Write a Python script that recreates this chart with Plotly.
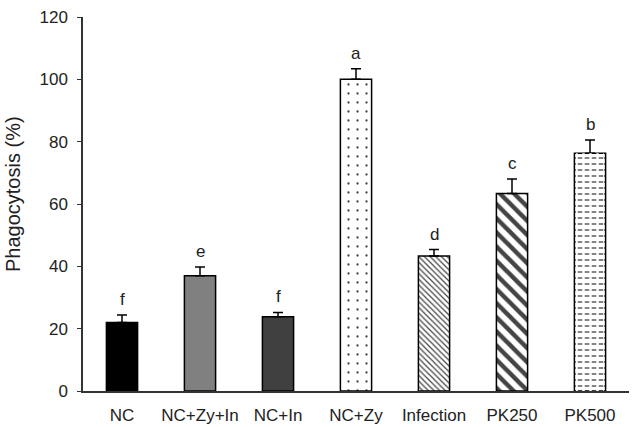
import plotly.graph_objects as go

categories = ["NC", "NC+Zy+In", "NC+In", "NC+Zy", "Infection", "PK250", "PK500"]
values = [22.0, 37.0, 23.8, 100.0, 43.3, 63.4, 76.3]
errors = [2.4, 2.8, 1.4, 3.4, 2.1, 4.6, 4.2]
letters = ["f", "e", "f", "a", "d", "c", "b"]
y_ticks = [0, 20, 40, 60, 80, 100, 120]

fill_colors = ["#000000", "#808080", "#404040", "#ffffff", "#ffffff", "#ffffff", "#ffffff"]
pattern_shapes = ["", "", "", ".", "\\", "\\", "-"]
pattern_fg = ["#000000", "#000000", "#000000", "#a0a0a0", "#6a6a6a", "#000000", "#222222"]
pattern_size = [8, 8, 8, 9, 4, 10, 6]
pattern_solid = [0.3, 0.3, 0.3, 0.05, 0.3, 0.45, 0.22]

FONT = "Liberation Sans, Arial"

fig = go.Figure()
fig.add_trace(go.Bar(
    x=categories,
    y=values,
    width=0.4,
    marker=dict(
        color=fill_colors,
        line=dict(color="#000000", width=1.5),
        pattern=dict(shape=pattern_shapes, fgcolor=pattern_fg, bgcolor="#ffffff",
                     size=pattern_size, solidity=pattern_solid, fillmode="overlay",
                     fgopacity=1),
    ),
    error_y=dict(type="data", array=errors, arrayminus=[0] * len(errors), symmetric=False,
                 color="#000000", thickness=1.5, width=5),
    showlegend=False,
))
# break the horizontal lines of the last bar into dashes
fig.add_trace(go.Bar(
    x=categories[6:],
    y=values[6:],
    width=0.36,
    marker=dict(
        color="rgba(0,0,0,0)",
        line=dict(width=0),
        pattern=dict(shape="|", fgcolor="#ffffff", bgcolor="rgba(0,0,0,0)",
                     size=7, solidity=0.35, fillmode="replace", fgopacity=1),
    ),
    hoverinfo="skip",
    showlegend=False,
))

for c, v, e, t in zip(categories, values, errors, letters):
    fig.add_annotation(x=c, y=v + e, text=t, showarrow=False, yanchor="bottom", yshift=4,
                       font=dict(family=FONT, size=17, color="#222222"))

fig.add_annotation(text="Phagocytosis (%)", xref="paper", yref="paper", x=-0.128, y=0.527,
                   textangle=-90, showarrow=False, xanchor="center", yanchor="middle",
                   font=dict(family=FONT, size=20, color="#222222"))

fig.update_layout(
    width=633, height=427,
    margin=dict(l=83, r=4, t=17, b=36),
    plot_bgcolor="#ffffff", paper_bgcolor="#ffffff",
    font=dict(family=FONT, size=17, color="#222222"),
    barmode="overlay",
)
fig.update_xaxes(
    range=[-0.5, 6.5], showline=True, linecolor="#333333", linewidth=1.5,
    ticks="", showgrid=False, tickfont=dict(size=17), zeroline=False, automargin=False,
    ticklabelstandoff=8,
)
fig.update_yaxes(
    range=[0, 120], tickvals=y_ticks, showline=True, linecolor="#333333", linewidth=1.5,
    ticks="outside", ticklen=4, tickcolor="#333333", showgrid=False, zeroline=False,
    tickfont=dict(size=17), automargin=False, ticklabelstandoff=6,
)

fig.write_html("out.html")
